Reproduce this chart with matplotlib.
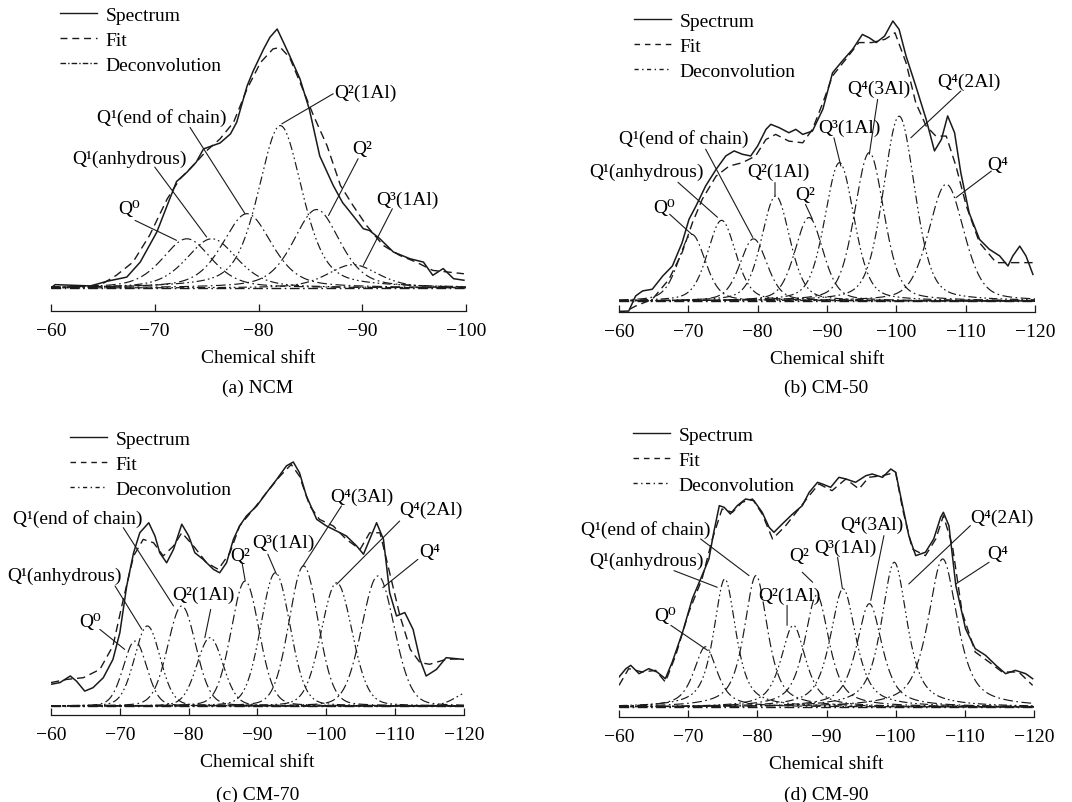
import numpy as np
import matplotlib
matplotlib.use('Agg')
import matplotlib.pyplot as plt
from matplotlib.lines import Line2D

plt.rcParams['font.family'] = ['Liberation Serif', 'DejaVu Serif']
plt.rcParams['font.size'] = 14
plt.rcParams['lines.scale_dashes'] = False

# ---------------- Panel (a) NCM ----------------
a_spec_x = [-60, -60.4, -63.8, -65.4, -67.3, -68.6, -70.2, -71.2, -72.1, -73.1, -74.0, -74.7, -75.6,
            -76.3, -77.3, -77.9, -78.9, -79.5, -80.5, -81.1, -81.8, -82.4, -83.0, -84.0, -84.9,
            -85.9, -87.2, -88.1, -89.1, -90.1, -90.7, -91.7, -93.0, -94.6, -95.9, -96.8, -97.8,
            -98.8, -99.8]
a_spec_y = [0.0, 0.013, 0.008, 0.026, 0.042, 0.10, 0.216, 0.319, 0.411, 0.447, 0.486, 0.537, 0.55,
            0.56, 0.595, 0.64, 0.78, 0.839, 0.923, 0.968, 1.0, 0.949, 0.897, 0.807, 0.69,
            0.51, 0.396, 0.33, 0.28, 0.229, 0.222, 0.19, 0.139, 0.113, 0.10, 0.049, 0.075,
            0.036, 0.03]
a_fit_x = [-60, -64.7, -66.3, -67.9, -69.5, -71.2, -72.4, -73.7, -75.0, -76.3, -77.6, -78.9, -80.2,
           -81.4, -82.1, -83.0, -84.0, -85.3, -86.6, -87.9, -89.1, -90.4, -92.0, -93.6, -95.2,
           -96.8, -99.8]
a_fit_y = [0.0, 0.01, 0.049, 0.10, 0.203, 0.344, 0.42, 0.473, 0.53, 0.576, 0.64, 0.769, 0.871,
           0.923, 0.929, 0.89, 0.794, 0.666, 0.55, 0.396, 0.319, 0.242, 0.165, 0.126, 0.10,
           0.068, 0.055]
a_peak_center = [-73.1, -75.5, -78.9, -82.1, -85.6, -89.1]
a_peak_height = [0.19, 0.19, 0.287, 0.627, 0.303, 0.09]
a_peak_fwhm = [5.6, 5.8, 5.6, 5.0, 5.3, 5.8]
a_labels = ["Q⁰", "Q¹(anhydrous)", "Q¹(end of chain)", "Q²(1Al)", "Q²", "Q³(1Al)"]
a_text_xy = [(-67.5, 0.306), (-67.6, 0.499), (-70.7, 0.66), (-90.35, 0.756), (-90.0, 0.537), (-94.4, 0.344)]
a_lead_start = [(-68.1, 0.261), (-70.0, 0.467), (-73.4, 0.62), (-87.2, 0.75), (-89.6, 0.499), (-92.9, 0.306)]
a_lead_end = [(-72.1, 0.184), (-75.0, 0.197), (-78.7, 0.287), (-82.25, 0.634), (-86.75, 0.28), (-90.1, 0.087)]

# ---------------- Panel (b) CM-50 ----------------
b_spec_x = [-60, -61.4, -62.4, -63.4, -64.8, -66.3, -67.7, -69.1, -70.1, -71.1, -72.5, -74.0, -75.4,
            -76.6, -77.8, -79.0, -80.0, -81.2, -81.9, -83.1, -84.5, -85.5, -86.5, -87.9, -89.4,
            -90.8, -92.2, -93.7, -95.1, -96.1, -97.1, -98.3, -99.5, -100.4, -101.4, -102.8, -104.3,
            -105.5, -106.5, -107.4, -108.4, -109.3, -110.5, -112.0, -113.4, -114.9, -116.1, -116.8,
            -117.8, -118.7, -119.7]
b_spec_y = [-0.037, -0.036, 0.018, 0.036, 0.042, 0.089, 0.125, 0.208, 0.292, 0.339, 0.411, 0.47, 0.518,
            0.536, 0.524, 0.518, 0.554, 0.613, 0.631, 0.619, 0.601, 0.613, 0.595, 0.607, 0.685,
            0.815, 0.857, 0.899, 0.952, 0.94, 0.923, 0.946, 1.0, 0.97, 0.875, 0.768, 0.649,
            0.536, 0.577, 0.661, 0.601, 0.458, 0.315, 0.22, 0.185, 0.161, 0.125, 0.161,
            0.196, 0.161, 0.095]
b_fit_x = [-61.5, -62.4, -64.8, -67.2, -69.1, -70.6, -72.0, -74.0, -75.9, -77.8, -79.7, -81.2, -82.6,
           -84.5, -86.5, -87.9, -89.4, -90.8, -92.7, -94.6, -96.5, -98.4, -99.8, -101.4, -102.8,
           -104.3, -105.7, -107.2, -108.6, -110.1, -112.0, -114.4, -117.3, -119.7]
b_fit_y = [-0.03, -0.018, 0.006, 0.077, 0.173, 0.28, 0.363, 0.446, 0.482, 0.494, 0.518, 0.577, 0.595,
           0.571, 0.565, 0.613, 0.708, 0.804, 0.863, 0.923, 0.923, 0.935, 0.958, 0.851, 0.708,
           0.625, 0.589, 0.589, 0.482, 0.339, 0.208, 0.137, 0.137, 0.137]
b_peak_center = [-70.5, -74.8, -79.4, -82.6, -87.4, -91.8, -96.1, -100.4, -107.2]
b_peak_height = [0.238, 0.288, 0.222, 0.375, 0.298, 0.494, 0.53, 0.66, 0.417]
b_peak_fwhm = [4.6, 4.8, 4.6, 4.8, 4.8, 5.0, 5.0, 5.4, 6.0]
b_labels = ["Q⁰", "Q¹(anhydrous)", "Q¹(end of chain)", "Q²(1Al)", "Q²", "Q³(1Al)",
            "Q⁴(3Al)", "Q⁴(2Al)", "Q⁴"]
b_text_xy = [(-66.5, 0.333), (-64.0, 0.464), (-69.3, 0.583), (-83.0, 0.464), (-86.9, 0.38),
             (-93.2, 0.619), (-97.5, 0.76), (-110.5, 0.786), (-114.6, 0.488)]
b_lead_start = [(-67.3, 0.31), (-68.5, 0.424), (-72.5, 0.542), (-82.5, 0.423), (-86.9, 0.345),
                (-91.0, 0.583), (-97.3, 0.72), (-109.3, 0.75), (-113.7, 0.464)]
b_lead_end = [(-70.5, 0.238), (-74.2, 0.299), (-79.3, 0.227), (-82.5, 0.375), (-87.9, 0.292),
              (-92.0, 0.482), (-96.1, 0.524), (-102.1, 0.583), (-108.6, 0.369)]

# ---------------- Panel (c) CM-70 ----------------
c_spec_x = [-60, -61.3, -62.8, -63.7, -64.9, -66.1, -67.6, -69.0, -70.0, -71.0, -72.0, -72.9, -74.2,
            -75.1, -75.8, -76.8, -77.8, -79.0, -80.0, -80.9, -82.1, -83.6, -84.5, -85.5, -86.5,
            -87.4, -88.4, -89.9, -91.3, -92.8, -94.2, -95.2, -96.1, -97.1, -98.6, -100.0, -101.5,
            -102.9, -104.4, -105.4, -106.3, -107.3, -108.3, -109.2, -110.2, -111.4, -112.6, -113.6,
            -114.5, -116.0, -117.4, -119.9]
c_spec_y = [0.089, 0.096, 0.123, 0.102, 0.061, 0.075, 0.116, 0.191, 0.30, 0.492, 0.628, 0.71, 0.751,
            0.697, 0.628, 0.587, 0.642, 0.745, 0.697, 0.628, 0.601, 0.56, 0.546, 0.587, 0.683,
            0.738, 0.779, 0.82, 0.874, 0.929, 0.984, 1.0, 0.956, 0.861, 0.765, 0.738, 0.717,
            0.697, 0.656, 0.622, 0.683, 0.751, 0.683, 0.464, 0.369, 0.383, 0.314, 0.191,
            0.123, 0.15, 0.198, 0.191]
c_fit_x = [-60, -62.3, -64.7, -67.1, -69.0, -70.5, -72.0, -73.4, -74.9, -76.3, -77.8, -79.0, -80.7,
           -82.6, -84.3, -86.0, -87.4, -89.4, -91.3, -93.3, -94.9, -96.1, -97.6, -99.0, -101.0,
           -102.9, -104.9, -106.3, -107.8, -109.2, -110.7, -112.2, -113.6, -115.0, -117.4, -119.9]
c_fit_y = [0.096, 0.109, 0.116, 0.15, 0.246, 0.437, 0.615, 0.683, 0.669, 0.615, 0.656, 0.71, 0.656,
           0.587, 0.56, 0.628, 0.738, 0.806, 0.874, 0.943, 0.99, 0.942, 0.82, 0.765, 0.738,
           0.683, 0.642, 0.71, 0.71, 0.546, 0.369, 0.232, 0.178, 0.171, 0.191, 0.194]
c_peak_center = [-72.2, -74.0, -79.0, -83.1, -88.2, -92.6, -96.7, -101.5, -107.5, -121.0]
c_peak_height = [0.266, 0.328, 0.41, 0.28, 0.512, 0.546, 0.574, 0.505, 0.533, 0.06]
c_peak_fwhm = [4.0, 4.4, 4.8, 4.5, 4.8, 5.0, 5.0, 5.3, 5.6, 5.0]
c_labels = ["Q⁰", "Q¹(anhydrous)", "Q¹(end of chain)", "Q²(1Al)", "Q²", "Q³(1Al)",
            "Q⁴(3Al)", "Q⁴(2Al)", "Q⁴"]
c_text_xy = [(-65.7, 0.348), (-62.0, 0.536), (-63.9, 0.772), (-82.1, 0.458), (-87.5, 0.615),
             (-93.8, 0.669), (-105.2, 0.86), (-115.2, 0.806), (-115.0, 0.635)]
c_lead_start = [(-67.1, 0.314), (-69.3, 0.492), (-70.5, 0.731), (-83.2, 0.396), (-87.8, 0.58),
                (-91.5, 0.622), (-102.2, 0.82), (-110.65, 0.758), (-113.3, 0.601)]
c_lead_end = [(-70.7, 0.232), (-73.2, 0.314), (-77.8, 0.41), (-82.35, 0.28), (-88.2, 0.515),
              (-92.75, 0.54), (-96.6, 0.574), (-101.5, 0.499), (-108.2, 0.485)]

# ---------------- Panel (d) CM-90 ----------------
d_spec_x = [-60, -61.0, -61.7, -62.9, -64.3, -65.5, -66.7, -67.7, -69.2, -70.6, -72.0, -73.0, -73.7,
            -74.5, -75.2, -76.1, -77.1, -78.3, -79.5, -80.7, -81.7, -82.4, -83.6, -85.1, -86.5,
            -87.5, -88.7, -89.4, -90.6, -91.8, -92.8, -94.2, -95.7, -96.6, -98.1, -99.3, -100.0,
            -101.0, -101.9, -102.9, -104.3, -105.5, -106.5, -106.9, -107.7, -108.7, -110.1, -111.5,
            -113.0, -114.5, -115.9, -117.3, -118.8, -119.8]
d_spec_y = [0.126, 0.161, 0.175, 0.14, 0.161, 0.147, 0.119, 0.189, 0.315, 0.455, 0.552, 0.622, 0.734,
            0.846, 0.839, 0.811, 0.846, 0.874, 0.867, 0.818, 0.755, 0.734, 0.769, 0.811, 0.846,
            0.902, 0.944, 0.937, 0.923, 0.965, 0.958, 0.944, 0.972, 0.979, 0.965, 1.0, 0.986,
            0.846, 0.72, 0.636, 0.65, 0.706, 0.797, 0.818, 0.762, 0.51, 0.329, 0.245,
            0.217, 0.175, 0.14, 0.154, 0.14, 0.119]
d_fit_x = [-60, -61.4, -63.4, -65.3, -66.7, -68.2, -70.1, -72.0, -73.5, -74.9, -76.4, -77.8, -79.3,
           -80.7, -82.2, -84.1, -86.0, -87.5, -88.9, -90.8, -92.8, -94.7, -96.1, -98.1, -100.0,
           -101.0, -102.4, -104.3, -105.8, -106.9, -108.2, -109.6, -111.5, -113.5, -115.4, -117.8,
           -119.8]
d_fit_y = [0.091, 0.161, 0.147, 0.154, 0.105, 0.217, 0.399, 0.538, 0.706, 0.832, 0.818, 0.86, 0.874,
           0.811, 0.706, 0.762, 0.832, 0.888, 0.937, 0.909, 0.958, 0.916, 0.965, 0.972, 0.986,
           0.832, 0.664, 0.636, 0.706, 0.804, 0.678, 0.399, 0.231, 0.189, 0.147, 0.147,
           0.091]
d_peak_center = [-72.5, -75.3, -79.8, -85.2, -88.6, -92.4, -96.2, -99.8, -106.8]
d_peak_height = [0.253, 0.538, 0.552, 0.343, 0.47, 0.497, 0.434, 0.608, 0.622]
d_peak_fwhm = [4.0, 3.8, 4.0, 4.2, 4.2, 4.4, 4.4, 4.4, 5.0]
d_labels = ["Q⁰", "Q¹(anhydrous)", "Q¹(end of chain)", "Q²(1Al)", "Q²", "Q³(1Al)",
            "Q⁴(3Al)", "Q⁴(2Al)", "Q⁴"]
d_text_xy = [(-66.7, 0.385), (-64.0, 0.615), (-63.9, 0.748), (-84.7, 0.469), (-86.0, 0.636),
             (-92.8, 0.671), (-96.6, 0.769), (-115.4, 0.797), (-114.7, 0.643)]
d_lead_start = [(-67.5, 0.343), (-67.95, 0.573), (-71.8, 0.706), (-84.3, 0.427), (-86.5, 0.566),
                (-91.6, 0.629), (-98.3, 0.72), (-110.8, 0.762), (-113.5, 0.608)]
d_lead_end = [(-72.8, 0.238), (-74.2, 0.503), (-78.8, 0.552), (-84.3, 0.343), (-88.0, 0.524),
              (-92.3, 0.497), (-96.4, 0.448), (-101.9, 0.517), (-108.7, 0.517)]

ticks_a = [-60, -70, -80, -90, -100]
ticks_bcd = [-60, -70, -80, -90, -100, -110, -120]

W, H = 1072, 803
fig = plt.figure(figsize=(W / 100, H / 100), dpi=100)


def pvoigt(x, c, h, w, eta):
    s = w / 2.3548
    g = np.exp(-0.5 * ((x - c) / s) ** 2)
    lz = 1.0 / (1.0 + ((x - c) / (w / 2.0)) ** 2)
    return h * (eta * lz + (1 - eta) * g)


COMP_STYLES = [(0, (7, 2.5, 1.2, 2.5)), (0, (6, 2.2, 1.2, 2.2, 1.2, 2.2))]

panels = [
    dict(px=(51, 466, 312, 5), xlim=(-60, -100), ylim_pix=(289, 30), ticks=ticks_a,
         sx=a_spec_x, sy=a_spec_y, fx=a_fit_x, fy=a_fit_y,
         pc=a_peak_center, ph=a_peak_height, pw=a_peak_fwhm, eta=0.45,
         labels=a_labels, txy=a_text_xy, ls=a_lead_start, le=a_lead_end,
         leg=(60, 7), legstyle='a', title="(a) NCM", title_xy=(258, 388)),
    dict(px=(619, 1035, 313, 5), xlim=(-60, -120), ylim_pix=(302, 22), ticks=ticks_bcd,
         sx=b_spec_x, sy=b_spec_y, fx=b_fit_x, fy=b_fit_y,
         pc=b_peak_center, ph=b_peak_height, pw=b_peak_fwhm, eta=0.35,
         labels=b_labels, txy=b_text_xy, ls=b_lead_start, le=b_lead_end,
         leg=(634, 13), legstyle='b', title="(b) CM-50", title_xy=(826, 388)),
    dict(px=(51, 464, 716, 410), xlim=(-60, -120), ylim_pix=(707, 463), ticks=ticks_bcd,
         sx=c_spec_x, sy=c_spec_y, fx=c_fit_x, fy=c_fit_y,
         pc=c_peak_center, ph=c_peak_height, pw=c_peak_fwhm, eta=0.15,
         labels=c_labels, txy=c_text_xy, ls=c_lead_start, le=c_lead_end,
         leg=(70, 431), legstyle='b', title="(c) CM-70", title_xy=(258, 795)),
    dict(px=(619, 1034, 718, 410), xlim=(-60, -120), ylim_pix=(708, 470), ticks=ticks_bcd,
         sx=d_spec_x, sy=d_spec_y, fx=d_fit_x, fy=d_fit_y,
         pc=d_peak_center, ph=d_peak_height, pw=d_peak_fwhm, eta=0.7,
         labels=d_labels, txy=d_text_xy, ls=d_lead_start, le=d_lead_end,
         leg=(633, 427), legstyle='b', title="(d) CM-90", title_xy=(826, 795)),
]

LC = '#1a1a1a'
for p in panels:
    left, right, bot, top = p['px']
    ax = fig.add_axes([left / W, 1 - bot / H, (right - left) / W, (bot - top) / H])
    base, peak = p['ylim_pix']
    scale = base - peak
    ax.set_ylim(-(bot - base) / scale, (base - top) / scale)
    ax.set_xlim(*p['xlim'])

    xg = np.linspace(p['xlim'][0], p['xlim'][1], 800)
    ax.plot(xg, np.zeros_like(xg), color=LC, lw=1.0, ls=COMP_STYLES[0])
    for i, (c, h, w) in enumerate(zip(p['pc'], p['ph'], p['pw'])):
        ax.plot(xg, pvoigt(xg, c, h, w, p['eta']), color=LC, lw=0.85,
                ls=COMP_STYLES[i % 2])
    ax.plot(p['fx'], p['fy'], color=LC, lw=1.0, ls=(0, (6, 3.5)))
    ax.plot(p['sx'], p['sy'], color=LC, lw=1.1, ls='-')

    for lab, txy, s, e in zip(p['labels'], p['txy'], p['ls'], p['le']):
        ax.text(txy[0], txy[1], lab, ha='center', va='center', fontsize=14, color='black')
        ax.annotate('', xy=e, xytext=s,
                    arrowprops=dict(arrowstyle='-', lw=0.8, color=LC, shrinkA=0, shrinkB=0))

    for sp in ['top', 'left', 'right']:
        ax.spines[sp].set_visible(False)
    ax.spines['bottom'].set_linewidth(0.9)
    ax.spines['bottom'].set_color(LC)
    ax.set_yticks([])
    ax.set_xticks(p['ticks'])
    ax.set_xticklabels([f"\u2212{abs(t)}" for t in p['ticks']])
    ax.tick_params(axis='x', direction='in', length=5, width=0.9, pad=8, labelsize=14, colors=LC)
    ax.tick_params(axis='x', labelcolor='black')
    ax.set_xlabel("Chemical shift", fontsize=14, labelpad=7)
    ax.patch.set_alpha(0)

    if p['legstyle'] == 'a':
        fit_ls = (0, (5, 3.5))
        dec_ls = (0, (4, 1.5, 1, 1.5))
    else:
        fit_ls = (0, (4, 3.5))
        dec_ls = (0, (3, 2.5, 1, 2.5))
    handles = [Line2D([], [], color=LC, lw=1.0, ls='-'),
               Line2D([], [], color=LC, lw=1.0, ls=fit_ls),
               Line2D([], [], color=LC, lw=1.0, ls=dec_ls)]
    lx, ly = p['leg']
    ax.legend(handles, ["Spectrum", "Fit", "Deconvolution"], loc='upper left',
              bbox_to_anchor=(lx / W, 1 - ly / H), bbox_transform=fig.transFigure,
              frameon=False, borderpad=0, borderaxespad=0, handlelength=1.9,
              handletextpad=0.45, labelspacing=0.38, fontsize=14)

    fig.text(p['title_xy'][0] / W, 1 - p['title_xy'][1] / H, p['title'], ha='center', va='center',
             fontsize=14)

fig.savefig('out.png', dpi=100)
